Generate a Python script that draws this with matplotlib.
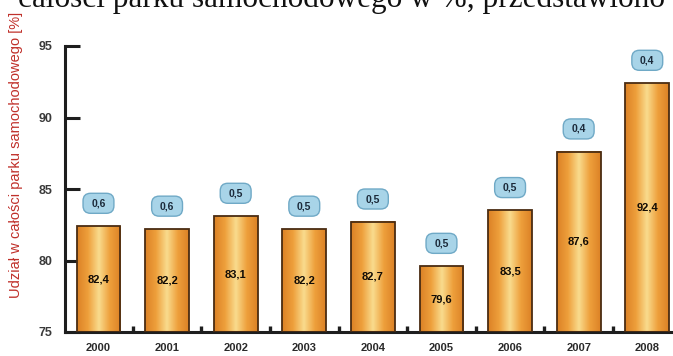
import matplotlib
matplotlib.use("Agg")
import matplotlib.pyplot as plt
import numpy as np
from matplotlib.patches import FancyBboxPatch
from matplotlib.colors import LinearSegmentedColormap

# Share of the car fleet, per year
years = ["2000", "2001", "2002", "2003", "2004", "2005", "2006", "2007", "2008"]
share = [82.4, 82.2, 83.1, 82.2, 82.7, 79.6, 83.5, 87.6, 92.4]
change = [0.6, 0.6, 0.5, 0.5, 0.5, 0.5, 0.5, 0.4, 0.4]
yticks = [75, 80, 85, 90, 95]

def pl(v):
    return f"{v:.1f}".replace(".", ",")

BOLD = ["Liberation Sans", "DejaVu Sans"]

fig = plt.figure(figsize=(6.73, 3.56), dpi=100)
ax = fig.add_axes([65 / 673, 24 / 356, 608 / 673, 286 / 356])

x = np.arange(len(years))

# orange gradient fill for the bars
cmap = LinearSegmentedColormap.from_list(
    "bar", [(0.0, "#dc8226"), (0.25, "#eea03c"), (0.5, "#f9dc8e"),
            (0.75, "#eea03c"), (1.0, "#dc8226")])
grad = np.linspace(0, 1, 64).reshape(1, -1)
bw = 0.64
bars = ax.bar(x, np.array(share) - 75, bottom=75, width=bw,
              color="none", edgecolor="#4a2c12", linewidth=1.3, zorder=3)
for b in bars:
    x0, y0 = b.get_x(), b.get_y()
    ax.imshow(grad, cmap=cmap, aspect="auto", zorder=2,
              extent=[x0, x0 + b.get_width(), y0, y0 + b.get_height()],
              interpolation="bilinear")

# values inside bars
for xi, v in zip(x, share):
    ax.text(xi, (75 + v) / 2, pl(v), ha="center", va="center",
            fontsize=8, fontweight="bold", family=BOLD, color="#120c05",
            zorder=5)

# rounded blue tags above bars
bw_box, bh_box = 0.45, 1.4
for xi, v, c in zip(x, share, change):
    cy = v + 1.6
    patch = FancyBboxPatch((xi - bw_box / 2, cy - bh_box / 2), bw_box, bh_box,
                           boxstyle="round,pad=0,rounding_size=0.11",
                           mutation_aspect=4.8, facecolor="#a8d4e8",
                           edgecolor="#6fa9c6", linewidth=1.0, zorder=4,
                           clip_on=False)
    ax.add_patch(patch)
    ax.text(xi, cy, pl(c), ha="center", va="center", fontsize=7.5,
            fontweight="bold", family=BOLD, color="#1c2a3a", zorder=5)

ax.set_xlim(-0.488, 8.375)
ax.set_ylim(75, 95)

for s in ["top", "right"]:
    ax.spines[s].set_visible(False)
for s in ["left", "bottom"]:
    ax.spines[s].set_linewidth(2.2)
    ax.spines[s].set_color("#1e1e1e")

ax.set_yticks(yticks)
ax.set_yticklabels([str(t) for t in yticks])
ax.tick_params(axis="y", direction="in", length=11, width=2.2,
               color="#1e1e1e", pad=9)
ax.set_xticks(x)
ax.set_xticklabels(years)
ax.tick_params(axis="x", which="major", length=0, pad=8)
ax.set_xticks(x[:-1] + 0.5, minor=True)
ax.tick_params(axis="x", which="minor", direction="in", length=4, width=2.4,
               color="#1e1e1e")
for lab in ax.get_yticklabels():
    lab.set_family(BOLD)
    lab.set_fontweight("bold")
    lab.set_fontsize(9)
    lab.set_color("#3a3a3a")
for lab in ax.get_xticklabels():
    lab.set_family(BOLD)
    lab.set_fontweight("bold")
    lab.set_fontsize(8)
    lab.set_color("#2a2a2a")

fig.text(16 / 673, 1 - 155 / 356, "Udział w całości parku samochodowego [%]",
         rotation=90, ha="center", va="center", fontsize=10.5,
         family=["Liberation Sans", "DejaVu Sans"], color="#c0302a")

# running text of the page above the chart
fig.text(665 / 673, 1 - 7 / 356, "całości parku samochodowego w %, przedstawiono",
         ha="right", va="baseline", fontsize=22.5,
         family=["Liberation Serif", "DejaVu Serif"], color="#111111")

fig.savefig("out.png", dpi=100)
